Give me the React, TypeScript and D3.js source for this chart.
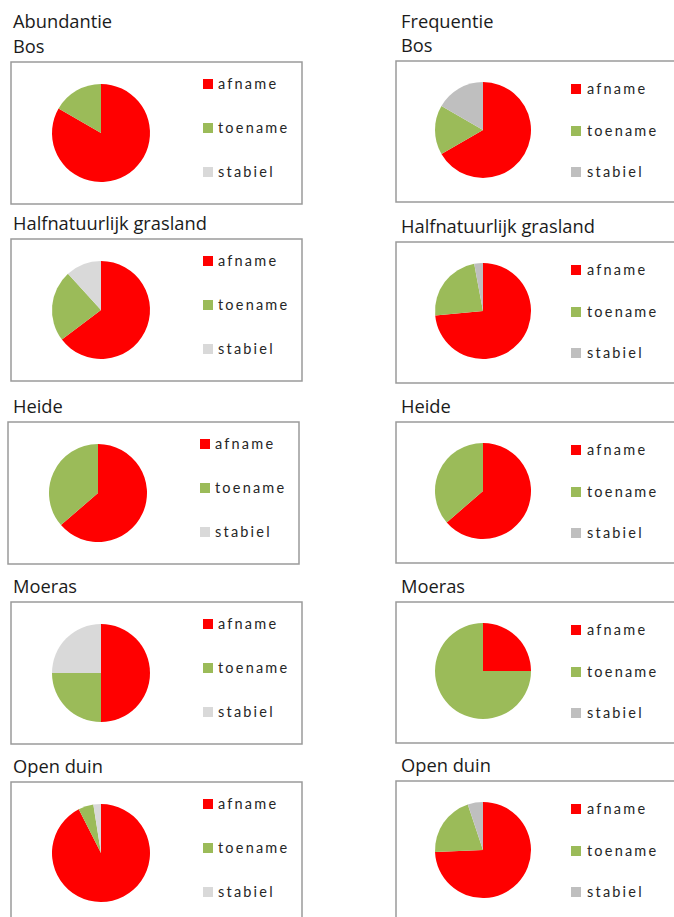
import * as d3 from 'd3';

// Soorten per habitattype: aandeel afname / toename / stabiel
const habitats = ['Bos', 'Halfnatuurlijk grasland', 'Heide', 'Moeras', 'Open duin'];
const categories = ['afname', 'toename', 'stabiel'];
const abundantie = [
  [10, 2, 0],
  [11, 4, 2],
  [7, 4, 0],
  [2, 1, 1],
  [37, 2, 1],
];
const frequentie = [
  [4, 1, 1],
  [25, 8, 1],
  [7, 4, 0],
  [1, 3, 0],
  [29, 8, 2],
];

const W = 674;
const H = 917;
const TITLE_FONT = '"Open Sans", Lato, sans-serif';
const LEGEND_FONT = 'Lato, "Open Sans", sans-serif';

// layout per kolom
const columns = [
  {
    title: 'Abundantie',
    values: abundantie,
    titleX: 13,
    boxX: [11, 11, 8, 11, 11],
    boxTop: [62, 239, 422, 602, 782],
    boxW: 291,
    boxH: 142,
    pieDx: 90,
    pieDy: 71,
    r: 49,
    sqDx: 192,
    txtDx: 207,
    legDy: [22, 66, 110],
    colors: ['#FF0000', '#9BBB59', '#D9D9D9'],
  },
  {
    title: 'Frequentie',
    values: frequentie,
    titleX: 401,
    boxX: [396, 396, 396, 396, 396],
    boxTop: [61, 242, 422, 602, 781],
    boxW: 320,
    boxH: 141,
    pieDx: 87,
    pieDy: 69,
    r: 48,
    sqDx: 175,
    txtDx: 191,
    legDy: [28, 70, 111],
    colors: ['#FF0000', '#9BBB59', '#BFBFBF'],
  },
];

const pie = d3
  .pie<number>()
  .sort(null)
  .value((d) => d);

export default function App() {
  return (
    <svg
      width={W}
      height={H}
      style={{ position: 'absolute', left: 0, top: 0, background: '#fff' }}
    >
      <rect width={W} height={H} fill="#fff" />
      {columns.map((col, ci) => (
        <g key={ci}>
          <text x={col.titleX} y={28} fontSize={18.3} fontFamily={TITLE_FONT} fill="#1b1b1b">
            {col.title}
          </text>
          {habitats.map((h, i) => {
            const bx = col.boxX[i];
            const by = col.boxTop[i];
            const arc = d3.arc<d3.PieArcDatum<number>>().innerRadius(0).outerRadius(col.r);
            const arcs = pie(col.values[i]);
            return (
              <g key={h}>
                <text x={col.titleX} y={by - 9} fontSize={18.3} fontFamily={TITLE_FONT} fill="#1b1b1b">
                  {h}
                </text>
                <rect
                  x={bx}
                  y={by}
                  width={col.boxW}
                  height={col.boxH}
                  fill="#fff"
                  stroke="#9a9a9a"
                  strokeWidth={1.5}
                />
                <g transform={`translate(${bx + col.pieDx},${by + col.pieDy})`}>
                  {arcs.map((a, k) =>
                    a.value > 0 ? (
                      <path key={k} d={arc(a) || ''} fill={col.colors[k]} />
                    ) : null
                  )}
                </g>
                {categories.map((c, k) => (
                  <g key={c} transform={`translate(${bx + col.sqDx},${by + col.legDy[k]})`}>
                    <rect x={0} y={-5} width={10} height={10} fill={col.colors[k]} />
                    <text
                      x={col.txtDx - col.sqDx}
                      y={5}
                      fontSize={14.5}
                      fontFamily={LEGEND_FONT}
                      letterSpacing={2.2}
                      fill="#262626"
                    >
                      {c}
                    </text>
                  </g>
                ))}
              </g>
            );
          })}
        </g>
      ))}
    </svg>
  );
}
